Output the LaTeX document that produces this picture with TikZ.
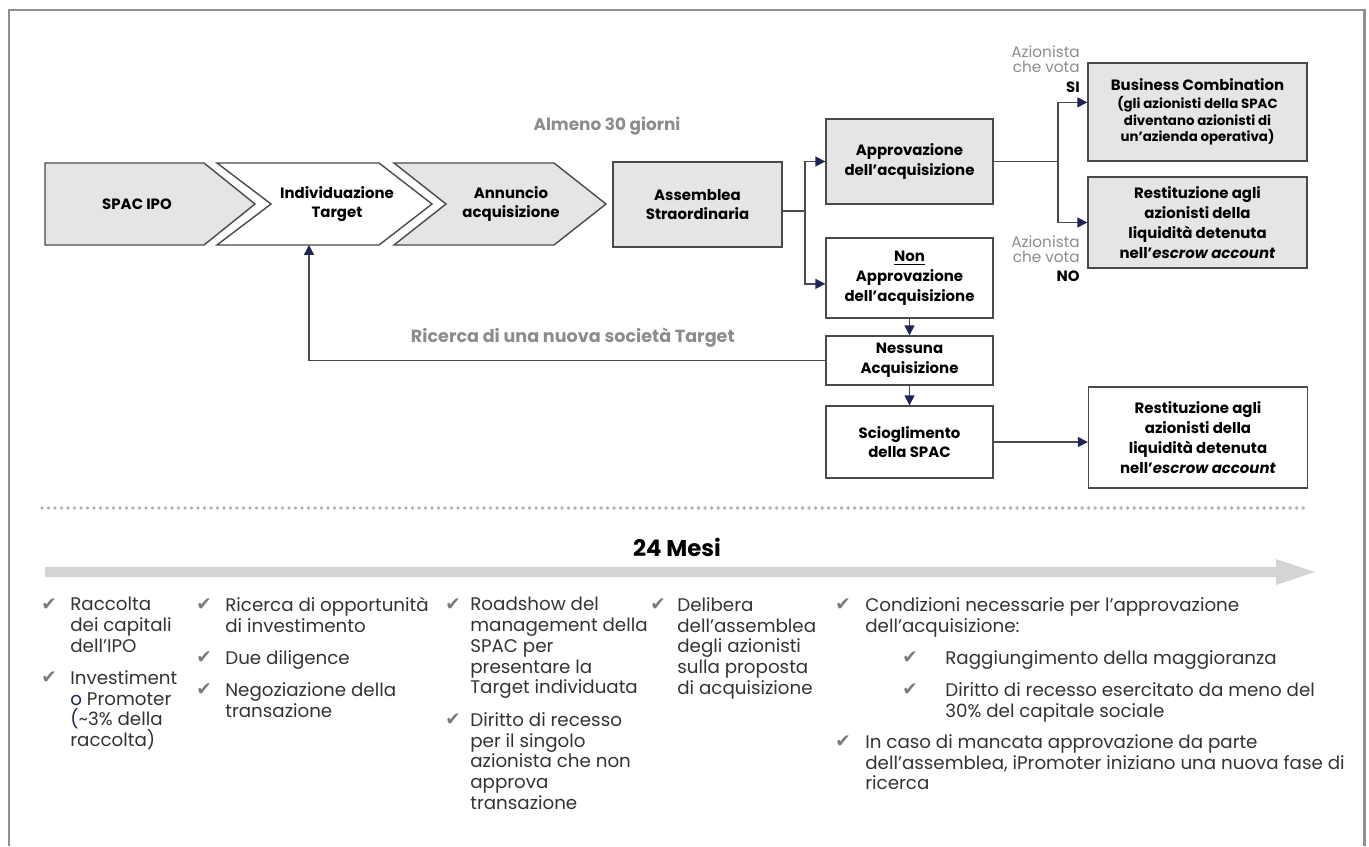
\documentclass[tikz,border=0pt]{standalone}
\usepackage{fontspec}
\setmainfont{Poppins}
\newfontfamily\symf{DejaVu Sans}
\usepackage{tikz}
\usepackage{xcolor}
\usetikzlibrary{arrows.meta}
\definecolor{boxgray}{HTML}{E5E5E5}
\definecolor{linegray}{HTML}{4A4A4A}
\definecolor{tipnavy}{HTML}{1F2356}
\definecolor{framegray}{HTML}{8F8F8F}
\definecolor{labgray}{HTML}{8C8C8C}
\definecolor{textdark}{HTML}{333333}
\definecolor{chkgray}{HTML}{7A7A7A}
\definecolor{bargray}{HTML}{D4D4D4}
\definecolor{dotgray}{HTML}{B4B4B4}
\newcommand\bcsub{\fontsize{7.6}{9.9}\selectfont}

\begin{document}
\begin{tikzpicture}[x=0.02cm,y=-0.02cm,
  chev/.style={draw=linegray,line width=0.8pt,line join=miter},
  box/.style={draw=linegray,line width=0.8pt,fill=boxgray,inner sep=0pt,align=center,minimum width=3.34cm,font=\fontsize{8.5}{11.3}\selectfont\bfseries},
  wbox/.style={box,fill=white},
  lbl/.style={inner sep=0pt,align=center,font=\fontsize{8.5}{11.3}\selectfont\bfseries},
  conn/.style={draw=linegray,line width=0.8pt},
  arr/.style={conn,-{Triangle[length=5.6pt,width=5.6pt,color=tipnavy]}},
  gl/.style={inner sep=0pt,text=labgray,font=\fontsize{9.6}{11}\selectfont\bfseries},
  vote/.style={inner sep=0pt,align=right,text=labgray,font=\fontsize{8.7}{8.6}\selectfont},
  yn/.style={inner sep=0pt,anchor=east,font=\fontsize{8.5}{10}\selectfont\bfseries},
  itm/.style={anchor=north west,inner sep=0pt,align=left,text=textdark,font=\fontsize{10.4}{11.8}\selectfont},
  chk/.style={inner sep=0pt,text=chkgray,font=\symf\fontsize{10.5}{11}\selectfont}]
  \useasboundingbox (0,0) rectangle (1369,846);
  \draw[framegray,line width=1.7pt] (9,846) -- (9,10) -- (1364,10) -- (1364,846);

  \draw[chev,fill=boxgray] (45,163) -- (204,163) -- (255,204) -- (204,245) -- (45,245) -- cycle;
  \draw[chev,fill=white] (217,163) -- (379,163) -- (432,204) -- (379,245) -- (217,245) -- (271,204) -- cycle;
  \draw[chev,fill=boxgray] (394,163) -- (554,163) -- (606,204) -- (554,245) -- (394,245) -- (446,204) -- cycle;
  \node[lbl] (ipo) at (137,204) {SPAC IPO};
  \node[lbl] (ind) at (337,204) {Individuazione\\Target};
  \node[lbl] (ann) at (511,204) {Annuncio\\acquisizione};
  \coordinate (indin) at (309,245);

  \node[box,minimum width=3.38cm,minimum height=1.70cm] (ass) at (697.5,204.5) {Assemblea\\Straordinaria};
  \node[box,minimum height=1.70cm] (app) at (909.5,161.5) {Approvazione\\dell’acquisizione};
  \node[wbox,minimum height=1.60cm] (non) at (909.5,278) {\underline{Non}\\Approvazione\\dell’acquisizione};
  \node[wbox,minimum height=0.98cm] (ness) at (909.5,360.5) {Nessuna\\Acquisizione};
  \node[wbox,minimum height=1.44cm] (sci) at (909.5,442) {Scioglimento\\della SPAC};
  \node[box,minimum width=4.38cm,minimum height=1.96cm] (bc) at (1197.5,112) {Business Combination\\[-1pt]{\bcsub (gli azionisti della SPAC}\\[-2pt]{\bcsub diventano azionisti di}\\[-2pt]{\bcsub un’azienda operativa)}};
  \node[box,minimum width=4.38cm,minimum height=1.82cm] (res) at (1197.5,222.5) {Restituzione agli\\azionisti della\\liquidità detenuta\\nell’\textit{escrow account}};
  \node[wbox,minimum width=4.38cm,minimum height=2.02cm] (res2) at (1198,437.5) {Restituzione agli\\azionisti della\\liquidità detenuta\\nell’\textit{escrow account}};

  \node[gl] (alm) at (607,126) {Almeno 30 giorni};
  \node[gl,anchor=east,font=\fontsize{10}{11}\selectfont\bfseries] (ric) at (735,338) {Ricerca di una nuova società Target};
  \node[vote,anchor=east] (vsi) at (1080,59.5) {Azionista\\che vota}; \node[yn] (si) at (1080,87) {SI};
  \node[vote,anchor=east] (vno) at (1080,249.5) {Azionista\\che vota}; \node[yn] (no) at (1080,276) {NO};

  \coordinate (f1) at (805,211); \coordinate (f2) at (1058,161.5);
  \draw[conn] (ass.east |- f1) -- (f1);
  \draw[arr] (f1) |- (app.west); \draw[arr] (f1) |- (non.184);
  \draw[conn] (app.east) -- (f2);
  \draw[arr] (f2) |- (bc.175); \draw[arr] (f2) |- (res.west);
  \draw[arr] (non.south) -- (ness.north); \draw[arr] (ness.south) -- (sci.north);
  \draw[arr] (sci.east) -- (res2.west |- sci.east);
  \draw[arr] (ness.west) -| (indin);

  \draw[dotgray,line width=2.2pt,line cap=round,dash pattern=on 0pt off 3.7pt] (42,508) -- (1309,508);
  \node[inner sep=0pt,font=\fontsize{13}{15}\selectfont\bfseries] (mesi) at (677,547) {24 Mesi};
  \fill[bargray] (45,567) -- (1276,567) -- (1276,559) -- (1315,572) -- (1276,585) -- (1276,577) -- (45,577) -- cycle;

  \node[chk] at (49,605) {✔}; \node[itm] (c1a) at (70,597) {Raccolta\\dei capitali\\dell’IPO};
  \node[chk] at (49,678) {✔}; \node[itm] (c1b) at (70,670) {Investiment\\{\color{tipnavy}o} Promoter\\{\color{tipnavy}(}\textasciitilde3\% della\\raccolta)};
  \node[chk] at (204,605) {✔}; \node[itm] (c2a) at (225,597) {Ricerca di opportunità\\di investimento};
  \node[chk] at (204,658) {✔}; \node[itm] (c2b) at (225,650) {Due diligence};
  \node[chk] at (204,690) {✔}; \node[itm] (c2c) at (225,682) {Negoziazione della\\transazione};
  \node[chk] at (453,605) {✔}; \node[itm] (c3a) at (470,597) {Roadshow del\\management della\\SPAC per\\presentare la\\Target individuata};
  \node[chk] at (453,720) {✔}; \node[itm] (c3b) at (470,712) {Diritto di recesso\\per il singolo\\azionista che non\\approva\\transazione};
  \node[chk] at (658,605) {✔}; \node[itm] (c4a) at (677,597) {Delibera\\dell’assemblea\\degli azionisti\\sulla proposta\\di acquisizione};
  \node[chk] at (843,605) {✔}; \node[itm] (c5a) at (865,597) {Condizioni necessarie per l’approvazione\\dell’acquisizione:};
  \node[chk] at (910,658) {✔}; \node[itm] (c5b) at (945,650) {Raggiungimento della maggioranza};
  \node[chk] at (910,690) {✔}; \node[itm] (c5c) at (945,682) {Diritto di recesso esercitato da meno del\\30\% del capitale sociale};
  \node[chk] at (843,742) {✔}; \node[itm] (c5d) at (865,734) {In caso di mancata approvazione da parte\\dell’assemblea, iPromoter iniziano una nuova fase di\\ricerca};
\end{tikzpicture}
\end{document}
